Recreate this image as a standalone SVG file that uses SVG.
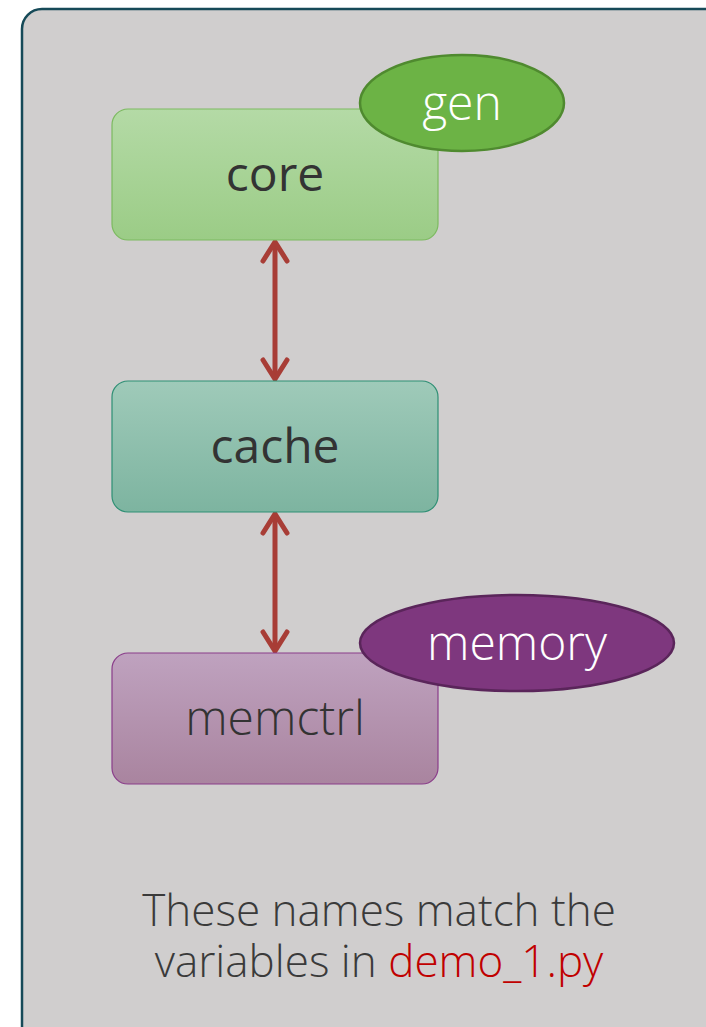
<svg xmlns="http://www.w3.org/2000/svg" width="706" height="1027" viewBox="0 0 706 1027">
  <defs>
    <linearGradient id="gCore" x1="0" y1="0" x2="0" y2="1">
      <stop offset="0" stop-color="#b4daa6"/>
      <stop offset="1" stop-color="#9bcc86"/>
    </linearGradient>
    <linearGradient id="gCache" x1="0" y1="0" x2="0" y2="1">
      <stop offset="0" stop-color="#9fcab9"/>
      <stop offset="1" stop-color="#7db4a0"/>
    </linearGradient>
    <linearGradient id="gMem" x1="0" y1="0" x2="0" y2="1">
      <stop offset="0" stop-color="#bfa2bf"/>
      <stop offset="1" stop-color="#a9849f"/>
    </linearGradient>
    <!-- open chevron head, drawn pointing along +x -->
    <marker id="head" viewBox="0 0 30 30" refX="25" refY="15" markerWidth="30" markerHeight="30" markerUnits="userSpaceOnUse" orient="auto-start-reverse">
      <path d="M6 3 L25 15 L6 27" fill="none" stroke="#a83d36" stroke-width="5" stroke-linecap="round" stroke-linejoin="miter"/>
    </marker>
  </defs>
  <style>
    .box { stroke-width: 1.2; }
    .lbl { font-family: "Open Sans", "Noto Sans", "Liberation Sans", sans-serif; font-size: 48px; fill: #333333; text-anchor: middle; }
    .tag { font-family: "Open Sans", "Noto Sans", "Liberation Sans", sans-serif; font-size: 48px; fill: #ffffff; text-anchor: middle; font-weight: 300; }
    .cap { font-family: "Open Sans", "Noto Sans", "Liberation Sans", sans-serif; font-size: 44px; fill: #3a3a3a; text-anchor: middle; font-weight: 300; }
    .link { stroke: #a83d36; stroke-width: 5; fill: none; }
  </style>

  <rect width="706" height="1027" fill="#ffffff"/>
  <!-- outer panel -->
  <rect x="22" y="9" width="720" height="1040" rx="20" ry="20" fill="#d0cece" stroke="#164a58" stroke-width="2.5"/>

  <!-- connectors -->
  <g id="connectors">
    <line class="link" x1="275" y1="242" x2="275" y2="379" marker-start="url(#head)" marker-end="url(#head)"/>
    <line class="link" x1="275" y1="514" x2="275" y2="651" marker-start="url(#head)" marker-end="url(#head)"/>
  </g>

  <g id="core">
    <rect class="box" x="112" y="109" width="326" height="131" rx="16" fill="url(#gCore)" stroke="#7cba60"/>
    <text class="lbl" x="275" y="191">core</text>
  </g>
  <g id="gen">
    <ellipse cx="462" cy="103" rx="102" ry="48" fill="#6cb345" stroke="#4f8a2f" stroke-width="2.5"/>
    <text class="tag" x="462" y="120" font-weight="400">gen</text>
  </g>

  <g id="cache">
    <rect class="box" x="112" y="381" width="326" height="131" rx="16" fill="url(#gCache)" stroke="#2e8f74"/>
    <text class="lbl" x="275" y="463">cache</text>
  </g>

  <g id="memctrl">
    <rect class="box" x="112" y="653" width="326" height="131" rx="16" fill="url(#gMem)" stroke="#8a3d8a"/>
    <text class="lbl" x="275" y="735" font-weight="300">memctrl</text>
  </g>
  <g id="memory">
    <ellipse cx="517" cy="643" rx="157" ry="48" fill="#7e377e" stroke="#5a255a" stroke-width="2.5"/>
    <text class="tag" x="517" y="660">memory</text>
  </g>

  <g id="caption">
    <text class="cap" x="379" y="926">These names match the</text>
    <text class="cap" x="379" y="977">variables in <tspan fill="#c00000">demo_1.py</tspan></text>
  </g>
</svg>
